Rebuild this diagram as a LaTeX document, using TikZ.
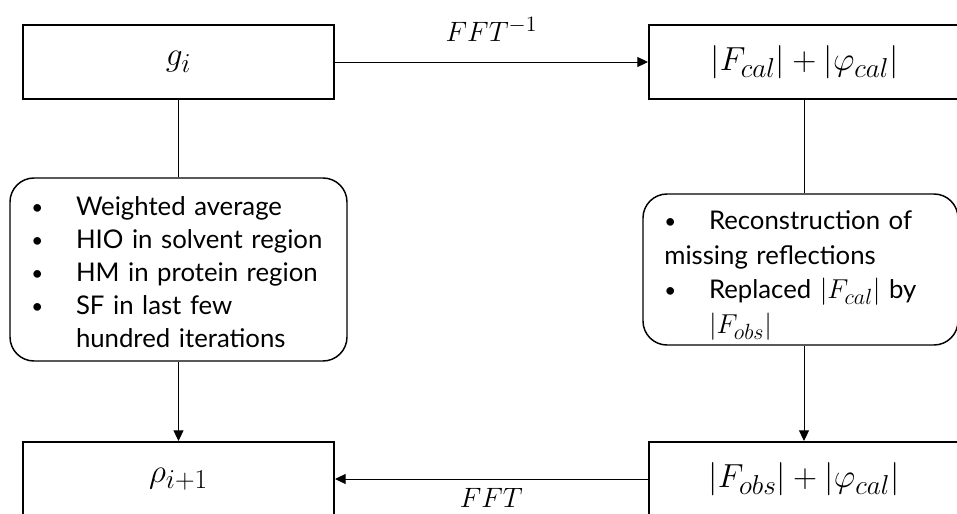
\RequirePackage{fix-cm}
\documentclass[tikz,border=0pt]{standalone}
\usepackage{fontspec}
\setmainfont{Lato}
\usetikzlibrary{arrows.meta}
\DeclareMathSizes{25}{25}{20.5}{15}
\DeclareMathSizes{21}{21}{16.5}{12}
\DeclareMathSizes{19.3}{20.5}{16.5}{12}
\newcommand\bul{\makebox[33.5pt][l]{\raisebox{1pt}{\scalebox{0.8}{\textbullet}}}}
\begin{document}
\begin{tikzpicture}[x=0.75pt,y=-0.75pt,
  mathbox/.style={draw, line width=1.5pt, minimum width=233.25pt, minimum height=55.5pt, inner sep=0pt, font=\fontsize{25}{29}\selectfont},
  notebox/.style={draw, line width=1.1pt, rounded corners=18pt, inner xsep=16pt, inner ysep=0pt, align=left},
  conn/.style={line width=0.75pt},
  arr/.style={conn, -{Triangle[length=8pt,width=7.5pt]}},
  lbl/.style={inner sep=0pt, font=\fontsize{21}{24}\selectfont}
]
\useasboundingbox (0,0) rectangle (957,514);
\clip (0,0) rectangle (957,514);
\node[mathbox] (gi) at (178.5,62) {$g_i$};
\node[mathbox] (fcal) at (804.5,62) {$|F_{cal}|+|\varphi_{cal}|$};
\node[mathbox] (rho) at (178.5,479) {$\rho_{i+1}$};
\node[mathbox] (fobs) at (804,479) {$|F_{obs}|+|\varphi_{cal}|$};
\node[notebox, minimum width=252.75pt, minimum height=137.25pt, text width=220.75pt,
  font=\fontsize{19.3}{24.6}\selectfont] (lb) at (178.5,269.5)
  {\raisebox{-2pt}[\height][\depth]{\begin{minipage}{220.75pt}\raggedright
   \bul Weighted average\\ \bul HIO in solvent region\\ \bul HM in protein region\\ \bul SF in last few\\ \hspace*{33.5pt}hundred iterations\end{minipage}}};
\node[notebox, minimum width=236.25pt, minimum height=113.25pt, text width=204.25pt,
  font=\fontsize{19.3}{26}\selectfont] (rb) at (800.5,269.5)
  {\raisebox{-4.5pt}[\height][\depth]{\begin{minipage}{204.25pt}\raggedright
   \bul Reconstruction of\\ missing reflections\\ \bul Replaced $|F_{cal}|$ by\\ \hspace*{33.5pt}$|F_{obs}|$\end{minipage}}};
\draw[arr] (gi) -- node[lbl, above=15pt] (l1) {$FFT^{-1}$} (fcal);
\draw[conn] (gi.south) -- (lb.north);
\draw[arr] (lb.south) -- (rho.north);
\draw[conn] (fcal.south) -- (fcal.south |- rb.north);
\draw[arr] (fobs.north |- rb.south) -- (fobs.north);
\draw[arr] (fobs) -- node[lbl, below=7pt] (l2) {$FFT$} (rho);
\end{tikzpicture}
\end{document}
